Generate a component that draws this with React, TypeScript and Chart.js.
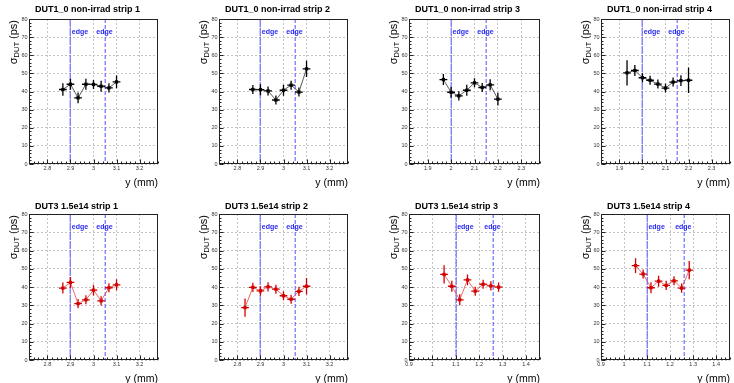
import React, { useEffect, useRef } from "react";
import { Chart, registerables } from "chart.js";
Chart.register(...registerables);

// ---------- DATA ----------
const titles = [
  "DUT1_0 non-irrad strip 1",
  "DUT1_0 non-irrad strip 2",
  "DUT1_0 non-irrad strip 3",
  "DUT1_0 non-irrad strip 4",
  "DUT3 1.5e14 strip 1",
  "DUT3 1.5e14 strip 2",
  "DUT3 1.5e14 strip 3",
  "DUT3 1.5e14 strip 4",
];

const yTicks = [0, 10, 20, 30, 40, 50, 60, 70, 80];
const yTickLabels = ["0", "10", "20", "30", "40", "50", "60", "70", "80"];

const xTicksA = [2.8, 2.9, 3.0, 3.1, 3.2];
const xTickLabelsA = ["2.8", "2.9", "3", "3.1", "3.2"];
const xTicksB = [1.9, 2.0, 2.1, 2.2, 2.3];
const xTickLabelsB = ["1.9", "2", "2.1", "2.2", "2.3"];
const xTicksC = [0.9, 1.0, 1.1, 1.2, 1.3, 1.4];
const xTickLabelsC = ["0.9", "1", "1.1", "1.2", "1.3", "1.4"];

const xRangeA = [2.72, 3.28];
const xRangeB = [1.82, 2.38];
const xRangeC = [0.9, 1.46];

const edgesA = [2.9, 3.05];
const edgesB = [2.0, 2.15];
const edgesC = [1.1, 1.26];

const xHalfWidth = 0.0167;

// DUT1_0 non-irrad
const x1 = [2.867, 2.9, 2.933, 2.967, 3.0, 3.033, 3.067, 3.1];
const y1 = [41.1, 44.0, 36.5, 44.0, 43.9, 42.9, 42.0, 45.3];
const e1 = [3.5, 3.0, 3.0, 3.0, 2.5, 3.0, 2.5, 3.5];

const x2 = [2.867, 2.9, 2.933, 2.967, 3.0, 3.033, 3.067, 3.1];
const y2 = [41.1, 41.0, 40.3, 35.3, 40.7, 43.5, 39.7, 52.5];
const e2 = [2.5, 3.0, 2.5, 2.5, 3.0, 2.5, 2.5, 4.5];

const x3 = [1.967, 2.0, 2.033, 2.067, 2.1, 2.133, 2.167, 2.2];
const y3 = [46.6, 39.6, 37.6, 40.7, 44.8, 42.2, 43.7, 35.8];
const e3 = [3.0, 3.0, 2.5, 3.0, 2.5, 2.5, 3.0, 3.5];

const x4 = [1.933, 1.967, 2.0, 2.033, 2.067, 2.1, 2.133, 2.167, 2.2];
const y4 = [50.3, 51.6, 47.6, 46.2, 44.1, 41.9, 45.2, 46.0, 46.2];
const e4 = [7.0, 3.0, 2.5, 2.5, 2.5, 2.5, 2.5, 3.0, 7.0];

// DUT3 1.5e14
const x5 = [2.867, 2.9, 2.933, 2.967, 3.0, 3.033, 3.067, 3.1];
const y5 = [39.4, 42.5, 30.9, 33.0, 38.3, 32.4, 39.6, 41.2];
const e5 = [3.0, 3.0, 2.5, 2.5, 3.0, 2.5, 2.5, 3.0];

const x6 = [2.833, 2.867, 2.9, 2.933, 2.967, 3.0, 3.033, 3.067, 3.1];
const y6 = [28.7, 39.8, 37.9, 40.1, 38.8, 35.2, 33.3, 37.6, 40.4];
const e6 = [5.0, 2.5, 2.5, 2.5, 2.5, 2.5, 2.5, 2.5, 4.5];

const x7 = [1.05, 1.083, 1.117, 1.15, 1.183, 1.217, 1.25, 1.283];
const y7 = [46.9, 40.4, 33.0, 43.9, 37.7, 41.5, 40.6, 39.9];
const e7 = [5.0, 3.0, 3.0, 3.0, 2.5, 2.5, 2.5, 2.5];

const x8 = [1.05, 1.083, 1.117, 1.15, 1.183, 1.217, 1.25, 1.283];
const y8 = [51.7, 47.1, 39.6, 43.2, 40.9, 43.4, 39.4, 49.2];
const e8 = [4.0, 2.5, 3.0, 3.0, 2.5, 2.5, 2.5, 5.0];

// ---------- PANEL CONFIG ----------
type PanelCfg = {
  title: string;
  xs: number[];
  ys: number[];
  es: number[];
  range: number[];
  ticks: number[];
  tickLabels: string[];
  edges: number[];
  color: string;
  lineColor: string;
};

const BLACK = "#000000";
const RED = "#d40000";

const panels: PanelCfg[] = [
  { title: titles[0], xs: x1, ys: y1, es: e1, range: xRangeA, ticks: xTicksA, tickLabels: xTickLabelsA, edges: edgesA, color: BLACK, lineColor: "#333333" },
  { title: titles[1], xs: x2, ys: y2, es: e2, range: xRangeA, ticks: xTicksA, tickLabels: xTickLabelsA, edges: edgesA, color: BLACK, lineColor: "#333333" },
  { title: titles[2], xs: x3, ys: y3, es: e3, range: xRangeB, ticks: xTicksB, tickLabels: xTickLabelsB, edges: edgesB, color: BLACK, lineColor: "#333333" },
  { title: titles[3], xs: x4, ys: y4, es: e4, range: xRangeB, ticks: xTicksB, tickLabels: xTickLabelsB, edges: edgesB, color: BLACK, lineColor: "#333333" },
  { title: titles[4], xs: x5, ys: y5, es: e5, range: xRangeA, ticks: xTicksA, tickLabels: xTickLabelsA, edges: edgesA, color: RED, lineColor: "#e04848" },
  { title: titles[5], xs: x6, ys: y6, es: e6, range: xRangeA, ticks: xTicksA, tickLabels: xTickLabelsA, edges: edgesA, color: RED, lineColor: "#e04848" },
  { title: titles[6], xs: x7, ys: y7, es: e7, range: xRangeC, ticks: xTicksC, tickLabels: xTickLabelsC, edges: edgesC, color: RED, lineColor: "#e04848" },
  { title: titles[7], xs: x8, ys: y8, es: e8, range: xRangeC, ticks: xTicksC, tickLabels: xTickLabelsC, edges: edgesC, color: RED, lineColor: "#e04848" },
];

// plot-area placement (pixels)
const plotLefts = [29, 219, 409, 601];
const plotRights = [161, 351, 543, 733];
const rows = [
  { top: 0, height: 190, plotTop: 19, plotBottom: 164, titleY: 10 },
  { top: 190, height: 193, plotTop: 214, plotBottom: 360, titleY: 17 },
];
const Y_AXIS_W = 29;
const FONT = "'Liberation Sans', Arial, Helvetica, sans-serif";
const EDGE_BLUE = "#6a6aff";

function rootPlugin(cfg: PanelCfg, titleY: number) {
  return {
    id: "rootStyle",
    beforeDatasetsDraw(chart: any) {
      const ctx = chart.ctx;
      const xs = chart.scales.x;
      const ys = chart.scales.y;
      const a = chart.chartArea;
      ctx.save();
      // edge lines
      cfg.edges.forEach((ev, i) => {
        const px = Math.round(xs.getPixelForValue(ev)) + 0.2;
        ctx.strokeStyle = EDGE_BLUE;
        ctx.lineWidth = 1.15;
        ctx.setLineDash(i === 0 ? [8, 1] : [4, 2]);
        ctx.beginPath();
        ctx.moveTo(px, a.top);
        ctx.lineTo(px, a.bottom);
        ctx.stroke();
      });
      ctx.setLineDash([]);
      ctx.fillStyle = "#2a2af0";
      ctx.font = `bold 7px ${FONT}`;
      ctx.textBaseline = "middle";
      ctx.textAlign = "left";
      const ly = ys.getPixelForValue(73);
      ctx.fillText("edge", xs.getPixelForValue(cfg.edges[0] + 0.006), ly);
      ctx.fillText("edge", xs.getPixelForValue(cfg.edges[1] - 0.038), ly);

      // error bars
      ctx.strokeStyle = cfg.color;
      ctx.lineWidth = 1.3;
      cfg.xs.forEach((xv, i) => {
        const px = xs.getPixelForValue(xv);
        const py = ys.getPixelForValue(cfg.ys[i]);
        const pyl = ys.getPixelForValue(cfg.ys[i] - cfg.es[i]);
        const pyh = ys.getPixelForValue(cfg.ys[i] + cfg.es[i]);
        const pxl = xs.getPixelForValue(xv - xHalfWidth);
        const pxh = xs.getPixelForValue(xv + xHalfWidth);
        ctx.beginPath();
        ctx.moveTo(px, pyl);
        ctx.lineTo(px, pyh);
        ctx.moveTo(pxl, py);
        ctx.lineTo(pxh, py);
        ctx.stroke();
      });
      ctx.restore();
    },
    afterDraw(chart: any) {
      const ctx = chart.ctx;
      const xs = chart.scales.x;
      const ys = chart.scales.y;
      const a = chart.chartArea;
      ctx.save();
      // frame
      ctx.strokeStyle = "#222222";
      ctx.lineWidth = 1;
      ctx.setLineDash([]);
      const l = Math.round(a.left) + 0.5;
      const r = Math.round(a.right) - 0.5;
      const t = Math.round(a.top) + 0.5;
      const b = Math.round(a.bottom) - 0.5;
      ctx.strokeRect(l, t, r - l, b - t);
      // inside ticks
      ctx.beginPath();
      const [xmin, xmax] = cfg.range;
      const start = Math.ceil(xmin / 0.02 - 1e-6);
      const end = Math.floor(xmax / 0.02 + 1e-6);
      for (let k = start; k <= end; k++) {
        const v = k * 0.02;
        const major = k % 5 === 0;
        const px = Math.round(xs.getPixelForValue(v)) + 0.5;
        ctx.moveTo(px, b);
        ctx.lineTo(px, b - (major ? 4 : 2));
      }
      for (let v = 0; v <= 80; v += 2) {
        const major = v % 10 === 0;
        const py = Math.round(ys.getPixelForValue(v)) + 0.5;
        ctx.moveTo(l, py);
        ctx.lineTo(l + (major ? 4 : 2), py);
      }
      ctx.stroke();

      // title
      ctx.fillStyle = "#000";
      ctx.font = `bold 9px ${FONT}`;
      ctx.textAlign = "left";
      ctx.textBaseline = "middle";
      ctx.fillText(cfg.title, a.left + 6, titleY);

      // x axis title
      ctx.font = `10.5px ${FONT}`;
      ctx.textAlign = "right";
      ctx.textBaseline = "alphabetic";
      ctx.fillText("y (mm)", a.right, a.bottom + 21.5);

      // y axis title (rotated, with subscript)
      ctx.translate(a.left - 15, a.top + 1);
      ctx.rotate(-Math.PI / 2);
      ctx.textAlign = "left";
      const fMain = `11px ${FONT}`;
      const fSub = `7.5px ${FONT}`;
      ctx.font = fMain;
      const wSig = ctx.measureText("\u03C3").width;
      const wUnit = ctx.measureText(" (ps)").width;
      ctx.font = fSub;
      const wSub = ctx.measureText("DUT").width;
      const total = wSig + wSub + wUnit;
      let cx = -total;
      ctx.textBaseline = "middle";
      ctx.font = fMain;
      ctx.fillText("\u03C3", cx, 0);
      cx += wSig;
      ctx.font = fSub;
      ctx.fillText("DUT", cx, 3);
      cx += wSub;
      ctx.font = fMain;
      ctx.fillText(" (ps)", cx, 0);
      ctx.restore();
    },
  };
}

function Panel({ cfg, col, row }: { cfg: PanelCfg; col: number; row: number }) {
  const ref = useRef<HTMLCanvasElement | null>(null);
  const L = plotLefts[col];
  const R = plotRights[col];
  const rw = rows[row];
  const canvasLeft = L - Y_AXIS_W;
  const width = R - canvasLeft + 1;
  const height = rw.height;
  const padTop = rw.plotTop - rw.top;
  const xAxisH = rw.top + rw.height - rw.plotBottom;

  useEffect(() => {
    const canvas = ref.current;
    if (!canvas) return;
    const chart = new Chart(canvas, {
      type: "line",
      data: {
        datasets: [
          {
            data: cfg.xs.map((x, i) => ({ x, y: cfg.ys[i] })),
            borderColor: cfg.lineColor,
            borderWidth: 0.8,
            pointStyle: "rect",
            pointRadius: 2.3,
            pointBackgroundColor: cfg.color,
            pointBorderColor: cfg.color,
            pointBorderWidth: 0,
            tension: 0,
            fill: false,
          },
        ],
      },
      options: {
        responsive: false,
        animation: false,
        devicePixelRatio: 1,
        events: [],
        layout: { padding: { left: 0, right: 1, top: padTop, bottom: 0 } },
        plugins: {
          legend: { display: false },
          tooltip: { enabled: false },
          title: { display: false },
        },
        scales: {
          x: {
            type: "linear",
            bounds: "data",
            min: cfg.range[0],
            max: cfg.range[1],
            afterBuildTicks: (s: any) => {
              s.ticks = cfg.ticks.map((v) => ({ value: v }));
            },
            afterFit: (s: any) => {
              s.height = xAxisH;
              s.paddingLeft = 0;
              s.paddingRight = 0;
            },
            ticks: {
              autoSkip: false,
              maxRotation: 0,
              minRotation: 0,
              padding: 1.5,
              color: "#333",
              font: { size: 5.5, family: FONT },
              callback: (_v: any, i: number) => cfg.tickLabels[i],
            },
            grid: { color: "#c4c4c4", lineWidth: 1, drawTicks: false },
            border: { display: false, dash: [2, 2] },
          },
          y: {
            type: "linear",
            bounds: "data",
            min: 0,
            max: 80,
            afterBuildTicks: (s: any) => {
              s.ticks = yTicks.map((v) => ({ value: v }));
            },
            afterFit: (s: any) => {
              s.width = Y_AXIS_W;
              s.paddingTop = 0;
              s.paddingBottom = 0;
            },
            ticks: {
              autoSkip: false,
              padding: 1.5,
              color: "#333",
              font: { size: 5.5, family: FONT },
              callback: (_v: any, i: number) => yTickLabels[i],
            },
            grid: { color: "#c4c4c4", lineWidth: 1, drawTicks: false },
            border: { display: false, dash: [2, 2] },
          },
        },
      },
      plugins: [rootPlugin(cfg, rw.titleY) as any],
    } as any);
    return () => chart.destroy();
  }, []);

  return (
    <canvas
      ref={ref}
      width={width}
      height={height}
      style={{ position: "absolute", left: canvasLeft, top: rw.top, width, height }}
    />
  );
}

export default function App() {
  return (
    <div
      style={{
        position: "fixed",
        left: 0,
        top: 0,
        width: 734,
        height: 383,
        background: "#fff",
        overflow: "hidden",
      }}
    >
      {panels.map((p, i) => (
        <Panel key={i} cfg={p} col={i % 4} row={Math.floor(i / 4)} />
      ))}
    </div>
  );
}
